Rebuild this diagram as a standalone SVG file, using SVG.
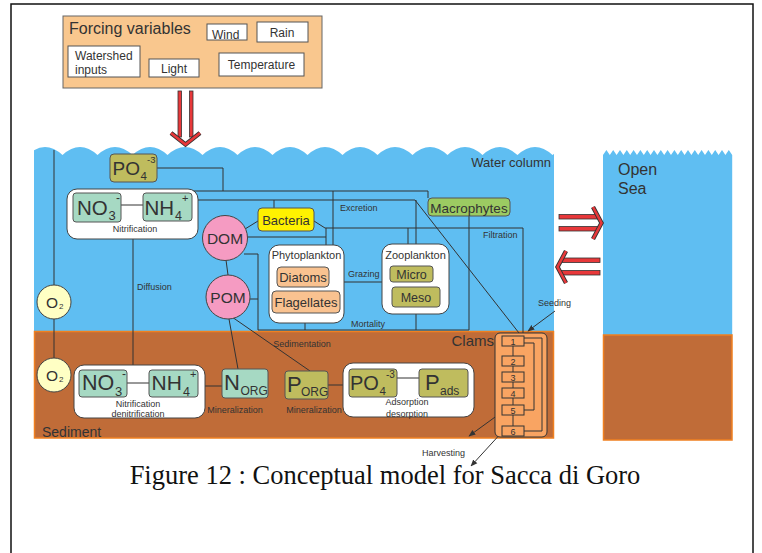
<svg xmlns="http://www.w3.org/2000/svg" width="762" height="553" viewBox="0 0 762 553">
<style>
.t{font-family:"Liberation Sans",Arial,sans-serif;fill:#333}
.ln{stroke:#333;stroke-width:1;fill:none}
.bx{stroke:#555;stroke-width:1}
.wb{fill:#fff;stroke:#444;stroke-width:1}
.teal{fill:#A6D9C3;stroke:#555;stroke-width:1}
.olive{fill:#BFBC5E;stroke:#555;stroke-width:1}
.orng{fill:#F9C290;stroke:#555;stroke-width:1}
.pink{fill:#F59BC2;stroke:#444;stroke-width:1}
.oxy{fill:#FFFFC4;stroke:#444;stroke-width:1}
.cl{fill:#F9A462;stroke:#333;stroke-width:1}
.ra{fill:#E8383A;stroke:#333;stroke-width:0.8}
.rc1{fill:none;stroke:#333;stroke-width:4.4;stroke-linejoin:miter}
.rc2{fill:none;stroke:#E8383A;stroke-width:2.6;stroke-linejoin:miter}
.s9{font-size:9px}
</style>
<defs>
<marker id="ah" viewBox="0 0 10 10" refX="9" refY="5" markerWidth="7" markerHeight="7" markerUnits="userSpaceOnUse" orient="auto"><path d="M0,1 L10,5 L0,9 z" fill="#333"/></marker>
<clipPath id="wc"><rect x="34" y="140" width="520" height="200"/></clipPath>
</defs>
<rect x="11" y="4" width="742" height="570" fill="#fff" stroke="#111" stroke-width="1.5"/>

<!-- water column and sediment -->
<g id="water-column">
<path d="M27.5,155 q17.5,-16 35,0 q17.5,-16 35,0 q17.5,-16 35,0 q17.5,-16 35,0 q17.5,-16 35,0 q17.5,-16 35,0 q17.5,-16 35,0 q17.5,-16 35,0 q17.5,-16 35,0 q17.5,-16 35,0 q17.5,-16 35,0 q17.5,-16 35,0 q17.5,-16 35,0 q17.5,-16 35,0 q17.5,-16 35,0 q17.5,-16 35,0 V332 H27.5 Z" fill="#5FBEF2" clip-path="url(#wc)"/>
<text class="t" x="551" y="167" font-size="13" text-anchor="end">Water column</text>
</g>
<g id="sediment">
<rect x="34.5" y="331.5" width="519" height="106.5" fill="#C06C38" stroke="#F08020" stroke-width="1.5"/>
<text class="t" x="42" y="437" font-size="14">Sediment</text>
</g>
<g id="open-sea">
<path d="M603,155 l3.4,-5 l3.4,5 l3.4,-5 l3.4,5 l3.4,-5 l3.4,5 l3.4,-5 l3.4,5 l3.4,-5 l3.4,5 l3.4,-5 l3.4,5 l3.4,-5 l3.4,5 l3.4,-5 l3.4,5 l3.4,-5 l3.4,5 l3.4,-5 l3.4,5 l3.4,-5 l3.4,5 l3.4,-5 l3.4,5 l3.4,-5 l3.4,5 l3.4,-5 l3.4,5 l3.4,-5 l3.4,5 l3.4,-5 l3.4,5 l3.4,-5 l3.4,5 l3.4,-5 l3.4,5 l3.4,-5 l3.4,5 V335 H603 Z" fill="#5FBEF2"/>
<rect x="603.5" y="335" width="128.5" height="105" fill="#C06C38" stroke="#F08020" stroke-width="1.5"/>
<text class="t" x="618" y="175" font-size="16">Open</text>
<text class="t" x="618" y="194" font-size="16">Sea</text>
</g>

<!-- forcing variables -->
<g id="forcing-variables">
<rect x="63" y="16" width="259" height="72" fill="#F9C78E" stroke="#666" stroke-width="1"/>
<text class="t" x="69" y="33.5" font-size="16">Forcing variables</text>
<rect x="207" y="24" width="40" height="16" fill="#fff" class="bx"/>
<text class="t" x="212" y="39" font-size="12">Wind</text>
<rect x="257" y="22" width="51" height="20" fill="#fff" class="bx"/>
<text class="t" x="282" y="37" font-size="12" text-anchor="middle">Rain</text>
<rect x="68" y="46" width="72" height="31" fill="#fff" class="bx"/>
<text class="t" x="75" y="60" font-size="12">Watershed</text>
<text class="t" x="75" y="74" font-size="12">inputs</text>
<rect x="149" y="59" width="50" height="18" fill="#fff" class="bx"/>
<text class="t" x="174" y="72.5" font-size="12" text-anchor="middle">Light</text>
<rect x="219" y="53" width="85" height="23" fill="#fff" class="bx"/>
<text class="t" x="261.5" y="69" font-size="12" text-anchor="middle">Temperature</text>
</g>

<!-- big red arrows -->
<g id="arrow-down">
<rect class="ra" x="178" y="91" width="3.5" height="46"/>
<rect class="ra" x="189.5" y="91" width="3.5" height="46"/>
<polyline class="rc1" points="171,133 185.5,144.5 200,133"/>
<polyline class="rc2" points="171,133 185.5,144.5 200,133"/>
</g>
<g id="arrow-to-sea">
<rect class="ra" x="559" y="214.5" width="39" height="4.5"/>
<rect class="ra" x="559" y="226.5" width="39" height="4.5"/>
<polyline class="rc1" points="593,207 601.5,223 593,239"/>
<polyline class="rc2" points="593,207 601.5,223 593,239"/>
</g>
<g id="arrow-from-sea">
<rect class="ra" x="561" y="258" width="39" height="4.5"/>
<rect class="ra" x="561" y="270.5" width="39" height="4.5"/>
<polyline class="rc1" points="566,251 557.5,267 566,283"/>
<polyline class="rc2" points="566,251 557.5,267 566,283"/>
</g>

<!-- connectors -->
<g id="connectors" class="ln">
<polyline points="54,150 54,285"/>
<line x1="54" y1="319" x2="54" y2="358"/>
<polyline points="157,168 223,168 223,191"/>
<polyline points="193,191 428,191 428,198"/>
<line x1="333" y1="191" x2="333" y2="245"/>
<polyline points="192,200 415,200 519,333"/>
<line x1="274" y1="200" x2="274" y2="208"/>
<line x1="416" y1="200" x2="416" y2="244"/>
<polyline points="314,221 325,228 523,228 523,333"/>
<line x1="326" y1="228" x2="326" y2="245"/>
<line x1="408" y1="228" x2="408" y2="244"/>
<line x1="247" y1="237" x2="326" y2="237"/>
<line x1="245" y1="229" x2="258" y2="221"/>
<line x1="226" y1="260" x2="228" y2="275"/>
<polyline points="244,254 258,254 258,330 469,330"/>
<line x1="250" y1="299" x2="258" y2="299"/>
<line x1="305" y1="323" x2="305" y2="330"/>
<line x1="416" y1="314" x2="416" y2="330"/>
<line x1="469" y1="216" x2="469" y2="330"/>
<line x1="344" y1="282" x2="382" y2="282"/>
<line x1="133" y1="239" x2="133" y2="365"/>
<line x1="229" y1="319" x2="238" y2="369"/>
<line x1="232" y1="317" x2="310" y2="371"/>
<line x1="127" y1="383" x2="149" y2="383"/>
<line x1="198" y1="386" x2="222" y2="386"/>
<line x1="328" y1="385" x2="349" y2="385"/>
<line x1="397" y1="378" x2="419" y2="378"/>
<line x1="555" y1="311" x2="528" y2="331" marker-end="url(#ah)"/>
<line x1="502" y1="412" x2="469" y2="436" marker-end="url(#ah)"/>
<line x1="503" y1="431" x2="471" y2="466" marker-end="url(#ah)"/>
</g>

<!-- connector labels -->
<g id="labels" class="t s9">
<text x="340" y="211">Excretion</text>
<text x="483" y="238">Filtration</text>
<text x="348" y="277">Grazing</text>
<text x="351" y="327">Mortality</text>
<text x="137" y="290">Diffusion</text>
<text x="302" y="347" text-anchor="middle">Sedimentation</text>
<text x="235" y="413" text-anchor="middle">Mineralization</text>
<text x="314" y="413" text-anchor="middle">Mineralization</text>
<text x="538" y="306">Seeding</text>
<text x="422" y="456">Harvesting</text>
</g>

<!-- water nodes -->
<g id="po4-water">
<rect class="olive" x="110" y="154" width="47" height="28" rx="4"/>
<text class="t" x="112.5" y="175" font-size="19">PO</text>
<text class="t" x="140.5" y="180" font-size="11.5">4</text>
<text class="t" x="147" y="163" font-size="9.5">-3</text>
</g>
<g id="nitrification-water">
<rect class="wb" x="67" y="189" width="131" height="50" rx="10"/>
<line class="ln" x1="121" y1="205" x2="143" y2="205"/>
<rect class="teal" x="73" y="193" width="48" height="29" rx="3"/>
<text class="t" x="77" y="215" font-size="20.5">NO</text>
<text class="t" x="108.5" y="220" font-size="13">3</text>
<text class="t" x="116" y="202" font-size="12">-</text>
<rect class="teal" x="143" y="193" width="49" height="28" rx="3"/>
<text class="t" x="144.5" y="215" font-size="20.5">NH</text>
<text class="t" x="175" y="220" font-size="12.5">4</text>
<text class="t" x="182" y="202" font-size="11">+</text>
<text class="t s9" x="135" y="232" text-anchor="middle">Nitrification</text>
</g>
<g id="bacteria">
<rect x="258" y="208" width="56" height="23" rx="4" fill="#FFF200" stroke="#555"/>
<text class="t" x="286" y="225" font-size="13" text-anchor="middle">Bacteria</text>
</g>
<g id="macrophytes">
<rect x="428" y="198" width="82" height="18" rx="4" fill="#9CCB62" stroke="#555"/>
<text class="t" x="469" y="212.5" font-size="13.5" text-anchor="middle">Macrophytes</text>
</g>
<g id="dom">
<circle class="pink" cx="225" cy="238" r="22.5"/>
<text class="t" x="225" y="244" font-size="15.5" text-anchor="middle">DOM</text>
</g>
<g id="pom">
<circle class="pink" cx="228" cy="297" r="22"/>
<text class="t" x="228" y="303" font-size="15.5" text-anchor="middle">POM</text>
</g>
<g id="phytoplankton">
<rect class="wb" x="269" y="245" width="75" height="78" rx="10"/>
<text class="t" x="306.5" y="259" font-size="11" text-anchor="middle">Phytoplankton</text>
<rect class="orng" x="277" y="267" width="52" height="20" rx="4"/>
<text class="t" x="303" y="282" font-size="13" text-anchor="middle">Diatoms</text>
<rect class="orng" x="272" y="291" width="68" height="22" rx="4"/>
<text class="t" x="306" y="307" font-size="13" text-anchor="middle">Flagellates</text>
</g>
<g id="zooplankton">
<rect class="wb" x="382" y="244" width="67" height="70" rx="10"/>
<text class="t" x="415.5" y="259" font-size="11" text-anchor="middle">Zooplankton</text>
<rect class="olive" x="390" y="266" width="43" height="16" rx="3"/>
<text class="t" x="411.5" y="279" font-size="12.5" text-anchor="middle">Micro</text>
<rect class="olive" x="392" y="287" width="48" height="20" rx="3"/>
<text class="t" x="416" y="302" font-size="12.5" text-anchor="middle">Meso</text>
</g>
<g id="o2-water">
<circle class="oxy" cx="54" cy="302" r="17"/>
<text class="t" x="46" y="307.5" font-size="15.5">O</text>
<text class="t" x="59" y="309" font-size="8">2</text>
</g>

<!-- sediment nodes -->
<g id="o2-sediment">
<circle class="oxy" cx="54" cy="375" r="17"/>
<text class="t" x="46" y="380.5" font-size="15.5">O</text>
<text class="t" x="59" y="382" font-size="8">2</text>
</g>
<g id="nitrification-sediment">
<rect class="wb" x="74" y="365" width="131" height="53" rx="10"/>
<line class="ln" x1="127" y1="383" x2="149" y2="383"/>
<rect class="teal" x="79" y="370" width="48" height="27" rx="3"/>
<text class="t" x="82" y="390" font-size="21.5">NO</text>
<text class="t" x="115" y="396" font-size="13">3</text>
<text class="t" x="122" y="378" font-size="12">-</text>
<rect class="teal" x="149" y="370" width="49" height="27" rx="3"/>
<text class="t" x="151.5" y="390" font-size="21">NH</text>
<text class="t" x="183" y="396" font-size="12.5">4</text>
<text class="t" x="190" y="378" font-size="11">+</text>
<text class="t s9" x="138" y="407" text-anchor="middle">Nitrification</text>
<text class="t s9" x="138" y="417" text-anchor="middle">denitrification</text>
</g>
<g id="n-org">
<rect class="teal" x="222" y="369" width="46" height="29" rx="3"/>
<text class="t" x="224" y="390" font-size="22">N</text>
<text class="t" x="240.5" y="395" font-size="12">ORG</text>
</g>
<g id="p-org">
<rect class="olive" x="285" y="371" width="43" height="28" rx="3"/>
<text class="t" x="287" y="392" font-size="22">P</text>
<text class="t" x="301" y="396" font-size="12">ORG</text>
</g>
<g id="adsorption">
<rect class="wb" x="343" y="363" width="131" height="54" rx="10"/>
<line class="ln" x1="397" y1="378" x2="419" y2="378"/>
<rect class="olive" x="349" y="369" width="48" height="28" rx="3"/>
<text class="t" x="350" y="390" font-size="20">PO</text>
<text class="t" x="379.5" y="395" font-size="11.5">4</text>
<text class="t" x="386" y="378" font-size="10">-3</text>
<rect class="olive" x="419" y="369" width="49" height="28" rx="3"/>
<text class="t" x="425" y="390" font-size="22">P</text>
<text class="t" x="440" y="395" font-size="12">ads</text>
<text class="t s9" x="407" y="405" text-anchor="middle">Adsorption</text>
<text class="t s9" x="407" y="417" text-anchor="middle">desorption</text>
</g>
<g id="clams">
<text class="t" x="494" y="346" font-size="15" text-anchor="end">Clams</text>
<rect class="cl" x="495" y="333" width="52" height="104" rx="5"/>
<line class="ln" x1="513" y1="346" x2="513" y2="426"/>
<polyline class="ln" points="524,338 542,338 542,431 524,431"/>
<polyline class="ln" points="524,343 534,343 534,410 524,410"/>
<rect class="cl" x="502" y="336" width="22" height="10"/>
<rect class="cl" x="502" y="356" width="22" height="10"/>
<rect class="cl" x="502" y="372" width="22" height="10"/>
<rect class="cl" x="502" y="388" width="22" height="10"/>
<rect class="cl" x="502" y="405" width="22" height="10"/>
<rect class="cl" x="502" y="426" width="22" height="10"/>
<g class="t s9" text-anchor="middle">
<text x="513" y="344.5">1</text>
<text x="513" y="364.5">2</text>
<text x="513" y="380.5">3</text>
<text x="513" y="396.5">4</text>
<text x="513" y="413.5">5</text>
<text x="513" y="434.5">6</text>
</g>
</g>

<text x="385" y="484" font-family="'Liberation Serif','Times New Roman',serif" font-size="26.5" fill="#111" text-anchor="middle">Figure 12 : Conceptual model for Sacca di Goro</text>
</svg>
